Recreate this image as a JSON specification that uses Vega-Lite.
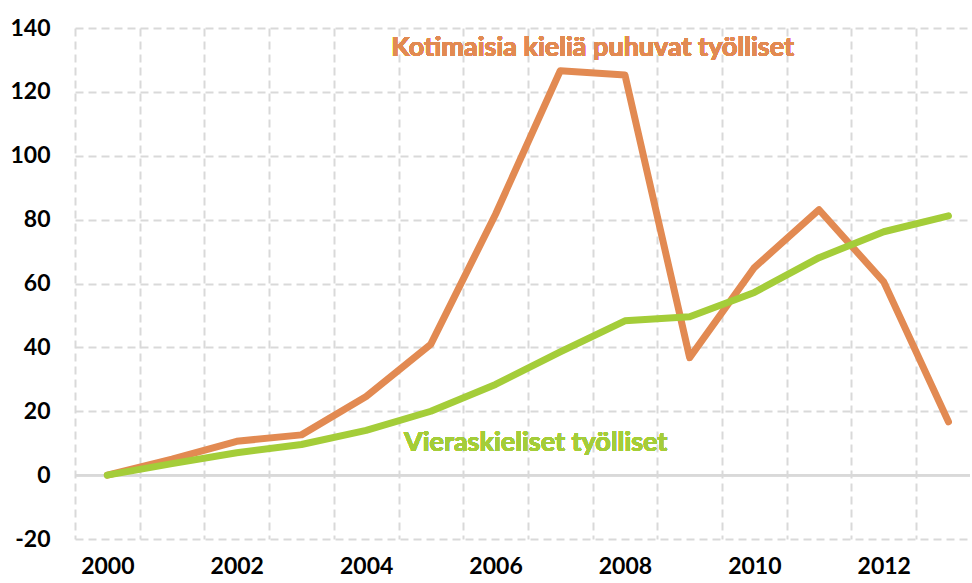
{
  "$schema": "https://vega.github.io/schema/vega-lite/v6.json",
  "width": 895,
  "height": 511,
  "autosize": "none",
  "padding": {"left": 75, "top": 28, "right": 2, "bottom": 44},
  "background": "white",
  "config": {
    "view": {"stroke": null},
    "font": "Lato",
    "axis": {"domain": false, "ticks": false, "tickSize": 0}
  },
  "resolve": {"axis": {"x": "independent", "y": "independent"}},
  "data": {
    "values": [
      {"year": 2000, "series": "Kotimaisia", "value": 0},
      {"year": 2001, "series": "Kotimaisia", "value": 5},
      {"year": 2002, "series": "Kotimaisia", "value": 10.6},
      {"year": 2003, "series": "Kotimaisia", "value": 12.6},
      {"year": 2004, "series": "Kotimaisia", "value": 24.6},
      {"year": 2005, "series": "Kotimaisia", "value": 41},
      {"year": 2006, "series": "Kotimaisia", "value": 81.7},
      {"year": 2007, "series": "Kotimaisia", "value": 126.6},
      {"year": 2008, "series": "Kotimaisia", "value": 125.3},
      {"year": 2009, "series": "Kotimaisia", "value": 36.8},
      {"year": 2010, "series": "Kotimaisia", "value": 65},
      {"year": 2011, "series": "Kotimaisia", "value": 83.1},
      {"year": 2012, "series": "Kotimaisia", "value": 60.5},
      {"year": 2013, "series": "Kotimaisia", "value": 16.7},
      {"year": 2000, "series": "Vieraskieliset", "value": 0},
      {"year": 2001, "series": "Vieraskieliset", "value": 3.6},
      {"year": 2002, "series": "Vieraskieliset", "value": 7},
      {"year": 2003, "series": "Vieraskieliset", "value": 9.6},
      {"year": 2004, "series": "Vieraskieliset", "value": 14},
      {"year": 2005, "series": "Vieraskieliset", "value": 20},
      {"year": 2006, "series": "Vieraskieliset", "value": 28.4},
      {"year": 2007, "series": "Vieraskieliset", "value": 38.6},
      {"year": 2008, "series": "Vieraskieliset", "value": 48.3},
      {"year": 2009, "series": "Vieraskieliset", "value": 49.6},
      {"year": 2010, "series": "Vieraskieliset", "value": 57.2},
      {"year": 2011, "series": "Vieraskieliset", "value": 68.1},
      {"year": 2012, "series": "Vieraskieliset", "value": 76.2},
      {"year": 2013, "series": "Vieraskieliset", "value": 81.2}
    ]
  },
  "layer": [
    {
      "mark": {"type": "rule", "color": "#D9D9D9", "strokeWidth": 2},
      "encoding": {
        "y": {"datum": 0, "type": "quantitative", "scale": {"domain": [-20, 140], "nice": false, "zero": false}, "axis": null}
      }
    },
    {
      "transform": [{"filter": "datum.series === 'Kotimaisia'"}],
      "mark": {"type": "line", "color": "#E28A52", "strokeWidth": 7, "strokeCap": "round", "strokeJoin": "round"},
      "encoding": {
        "x": {
          "field": "year", "type": "quantitative",
          "scale": {"domain": [1999.5, 2013.333], "nice": false, "zero": false},
          "axis": {
            "values": [1999.5, 2000.5, 2001.5, 2002.5, 2003.5, 2004.5, 2005.5, 2006.5, 2007.5, 2008.5, 2009.5, 2010.5, 2011.5, 2012.5],
            "labels": false, "title": null, "grid": true,
            "gridColor": "#D9D9D9", "gridWidth": 2, "gridDash": [8, 5]
          }
        },
        "y": {
          "field": "value", "type": "quantitative",
          "scale": {"domain": [-20, 140], "nice": false, "zero": false},
          "axis": {
            "values": [-20, 0, 20, 40, 60, 80, 100, 120, 140],
            "labelExpr": "datum.value < 0 ? '-' + abs(datum.value) : datum.label",
            "title": null, "grid": true,
            "gridColor": "#D9D9D9", "gridWidth": 2, "gridDash": [8, 5],
            "labelFont": "Lato", "labelFontWeight": "bold", "labelFontSize": 23,
            "labelColor": "#000000", "labelPadding": 25
          }
        }
      }
    },
    {
      "transform": [{"filter": "datum.series === 'Vieraskieliset'"}],
      "mark": {"type": "line", "color": "#A4CD39", "strokeWidth": 7, "strokeCap": "round", "strokeJoin": "round"},
      "encoding": {
        "x": {
          "field": "year", "type": "quantitative",
          "axis": {
            "values": [2000, 2002, 2004, 2006, 2008, 2010, 2012],
            "format": "d", "title": null, "grid": false, "orient": "bottom",
            "labelFont": "Lato", "labelFontWeight": "bold", "labelFontSize": 23,
            "labelColor": "#000000", "labelPadding": 16
          }
        },
        "y": {"field": "value", "type": "quantitative", "axis": null}
      }
    },
    {
      "mark": {"type": "text", "text": "Kotimaisia kieliä puhuvat työlliset", "font": "Lato", "fontWeight": "bold", "fontSize": 27, "color": "#E28A52", "align": "center", "baseline": "alphabetic"},
      "encoding": {
        "x": {"datum": 2007.5, "type": "quantitative", "axis": null},
        "y": {"datum": 131.2, "type": "quantitative", "axis": null}
      }
    },
    {
      "mark": {"type": "text", "text": "Vieraskieliset työlliset", "font": "Lato", "fontWeight": "bold", "fontSize": 27, "color": "#A4CD39", "align": "center", "baseline": "alphabetic"},
      "encoding": {
        "x": {"datum": 2006.62, "type": "quantitative", "axis": null},
        "y": {"datum": 7.5, "type": "quantitative", "axis": null}
      }
    }
  ]
}
